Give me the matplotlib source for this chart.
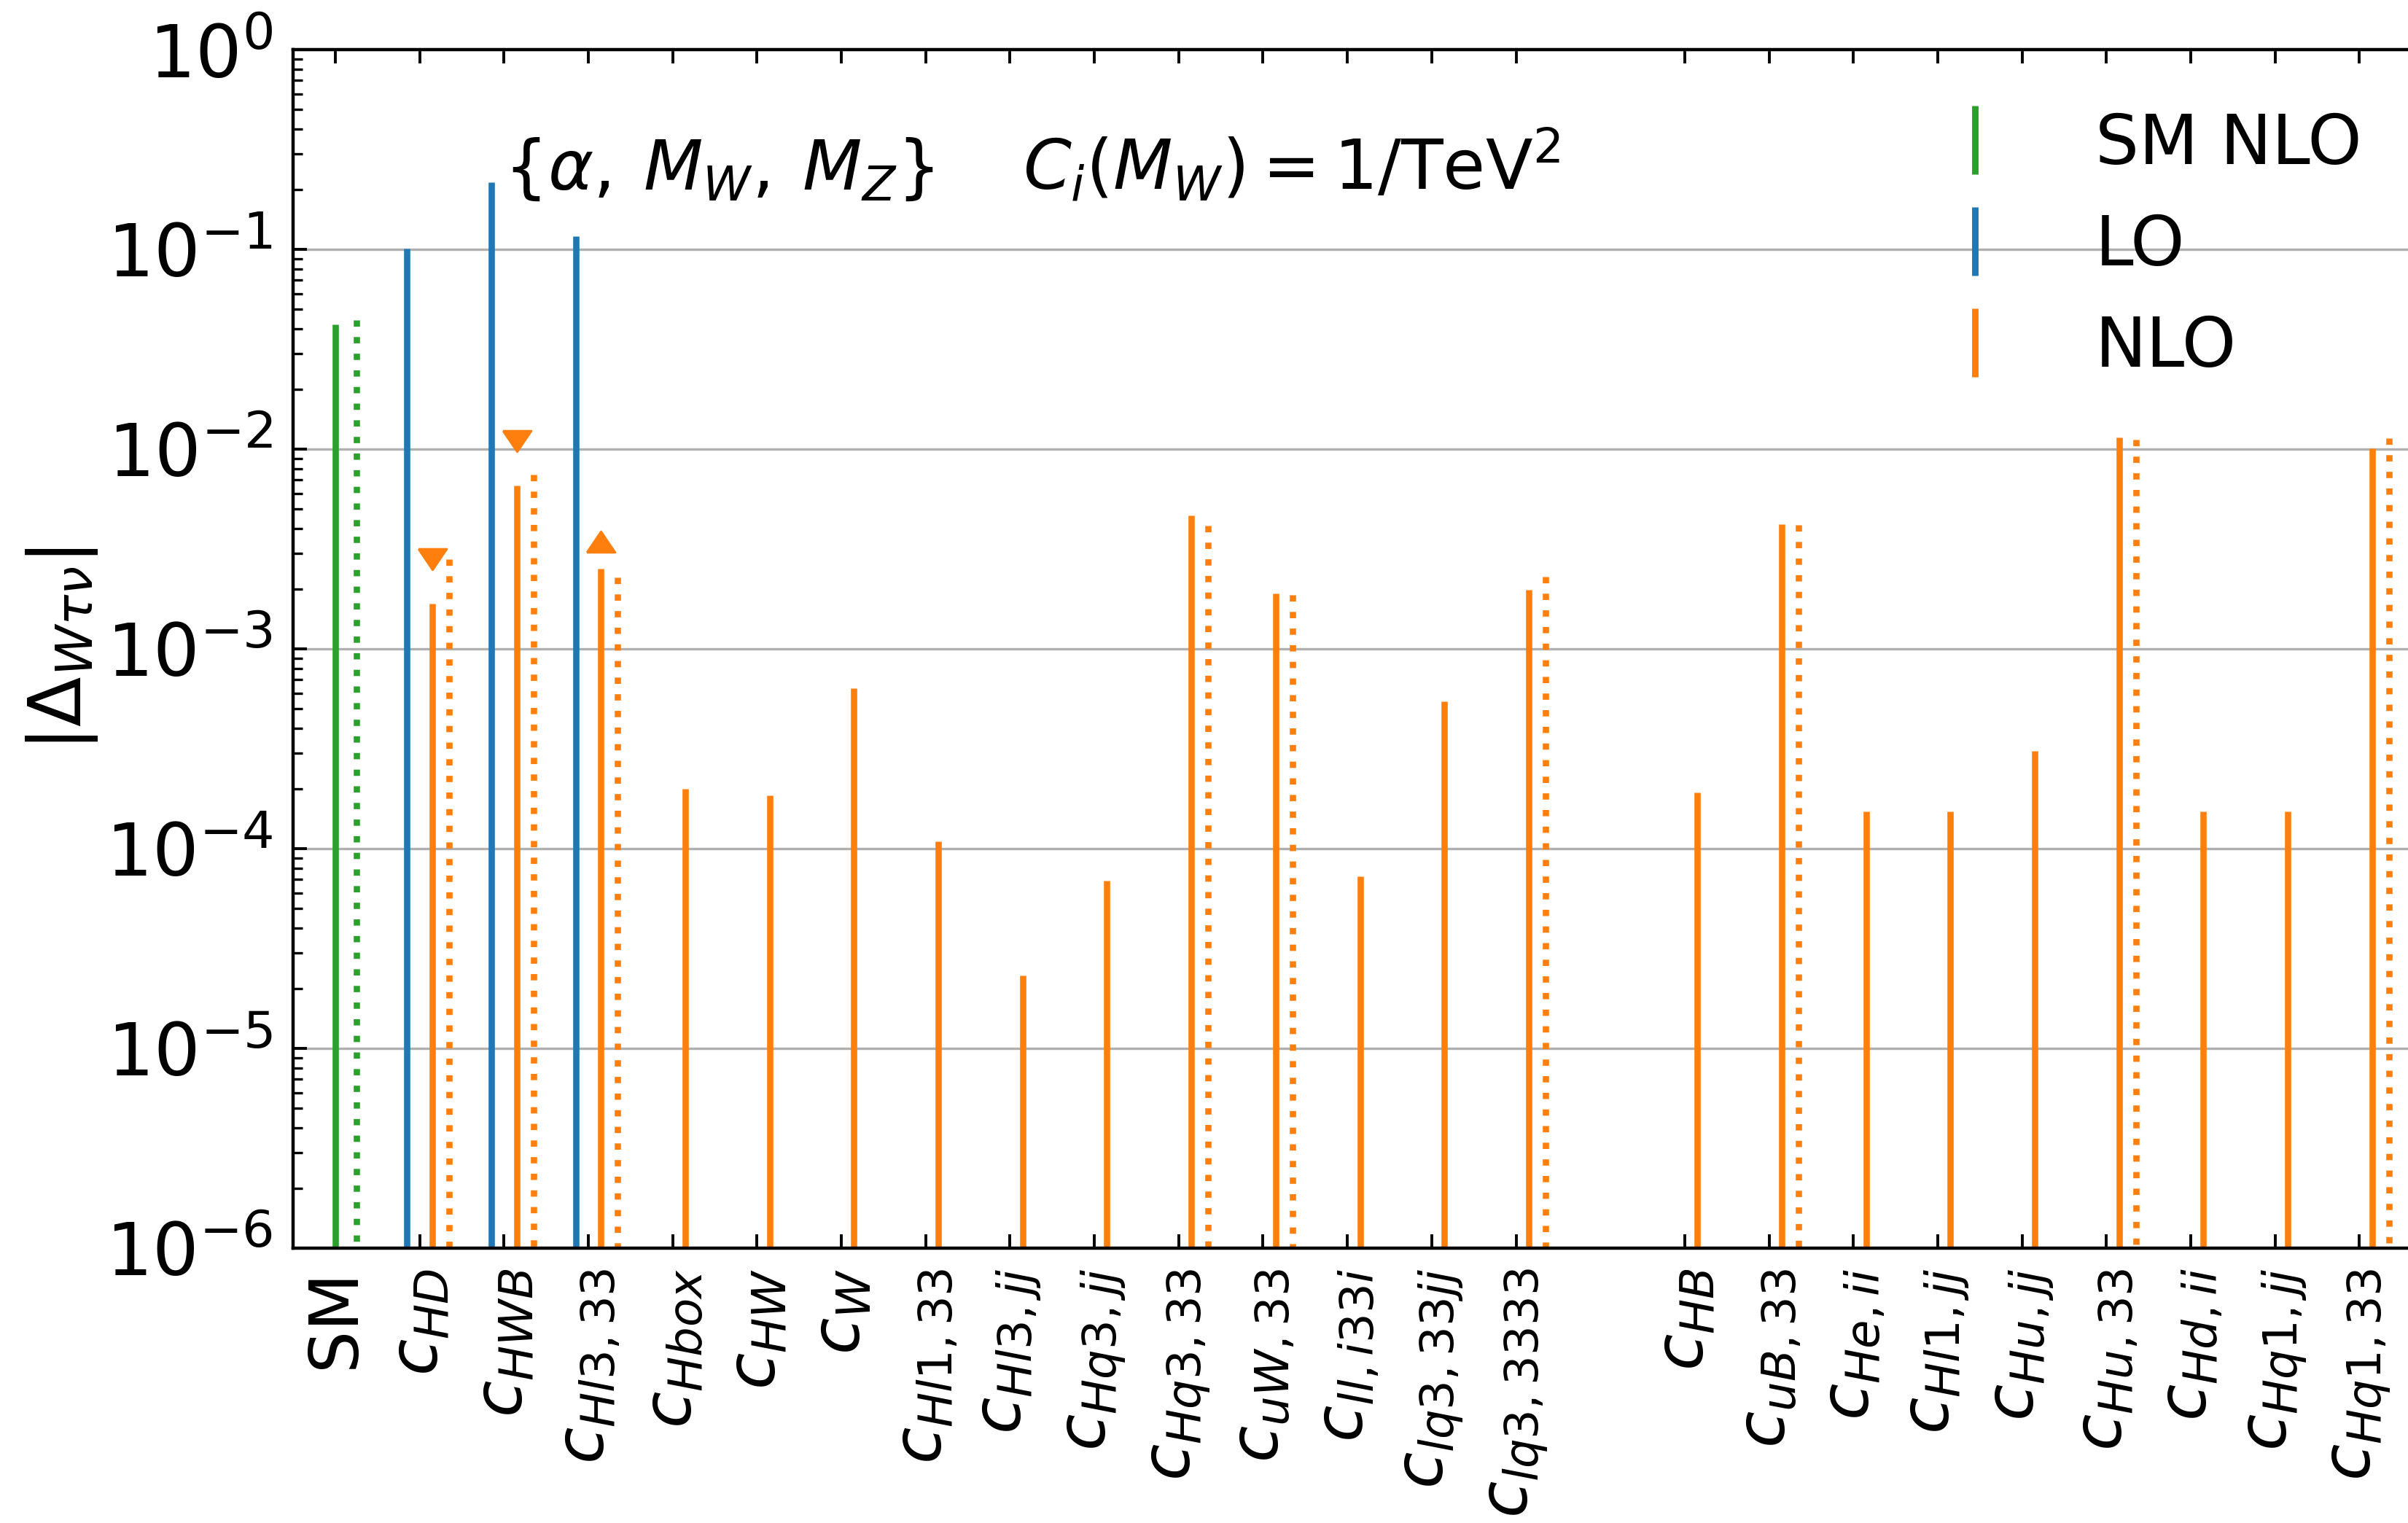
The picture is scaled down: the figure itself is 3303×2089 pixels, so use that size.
import matplotlib.pyplot as plt
from matplotlib.lines import Line2D
import numpy as np

# operator labels along x (slot 15 left empty as a separator)
labels = ['SM', r'$c_{HD}$', r'$c_{HWB}$', r'$c_{Hl3,33}$', r'$c_{Hbox}$', r'$c_{HW}$',
          r'$c_{W}$', r'$c_{Hl1,33}$', r'$c_{Hl3,jj}$', r'$c_{Hq3,jj}$', r'$c_{Hq3,33}$',
          r'$c_{uW,33}$', r'$c_{ll,i33i}$', r'$c_{lq3,33jj}$', r'$c_{lq3,3333}$',
          r'$c_{HB}$', r'$c_{uB,33}$', r'$c_{He,ii}$', r'$c_{Hl1,jj}$', r'$c_{Hu,jj}$',
          r'$c_{Hu,33}$', r'$c_{Hd,ii}$', r'$c_{Hq1,jj}$', r'$c_{Hq1,33}$']
xpos = list(range(15)) + list(range(16, 25))

# SM at NLO (two schemes)
sm_nlo = 4.20e-2
sm_nlo_alt = 4.42e-2

# LO contributions (c_HD, c_HWB, c_Hl3,33)
lo_idx = [1, 2, 3]
lo_vals = [1.01e-1, 2.17e-1, 1.16e-1]

# NLO contributions, one per operator (labels[1:])
nlo_vals = [1.69e-3, 6.57e-3, 2.53e-3, 2.00e-4, 1.85e-4, 6.35e-4, 1.09e-4, 2.31e-5,
            6.93e-5, 4.64e-3, 1.89e-3, 7.24e-5, 5.44e-4, 1.98e-3,
            1.91e-4, 4.20e-3, 1.53e-4, 1.53e-4, 3.08e-4, 1.14e-2, 1.53e-4, 1.53e-4, 1.01e-2]

# NLO in the second scheme (dotted)
alt_idx = [1, 2, 3, 10, 11, 14, 16, 20, 23]
alt_vals = [2.81e-3, 7.48e-3, 2.28e-3, 4.13e-3, 1.87e-3, 2.30e-3, 4.17e-3, 1.12e-2, 1.13e-2]

# sign-flip markers
tri_idx = [1, 2, 3]
tri_vals = [2.81e-3, 1.10e-2, 3.43e-3]
tri_down = [True, True, False]

xpos = np.array(xpos)
ymin = 1e-6
lw = 3.1

# flattened triangles
tri_dn = [(-1, 0.74), (1, 0.74), (0, -0.74), (-1, 0.74)]
tri_up = [(-1, -0.74), (1, -0.74), (0, 0.74), (-1, -0.74)]

fig = plt.figure(figsize=(3303/200, 2089/200))
ax = fig.add_axes([0.1217, 0.18047, 0.9107, 0.78698])

ax.vlines(xpos[0], ymin, sm_nlo, color='tab:green', lw=lw)
ax.vlines(xpos[lo_idx] - 0.15, ymin, lo_vals, color='tab:blue', lw=lw)
ax.vlines(xpos[1:] + 0.15, ymin, nlo_vals, color='tab:orange', lw=lw)
# dotted ones drawn top-down so the dot pattern starts at the value
ax.vlines(xpos[0] + 0.25, sm_nlo_alt, ymin, color='tab:green', lw=lw, linestyles=':')
ax.vlines(xpos[alt_idx] + 0.35, alt_vals, ymin, color='tab:orange', lw=lw, linestyles=':')
for i, v, d in zip(tri_idx, tri_vals, tri_down):
    ax.plot(xpos[i] + 0.15, v, marker=tri_dn if d else tri_up, color='tab:orange',
            ms=14, mew=1, ls='none')

ax.set_yscale('log')
ax.set_ylim(ymin, 1)
ax.set_xlim(-0.5, 25.5)
ax.grid(axis='y', which='major', color='#b0b0b0', lw=1.2)

ax.set_xticks(xpos)
ax.set_xticklabels(labels, rotation=90, fontsize=33)
ax.tick_params(which='both', direction='in', top=True, right=True)
ax.tick_params(which='major', length=7, width=1.4)
ax.tick_params(which='minor', length=4.5, width=1.2)
ax.tick_params(axis='x', pad=10)
ax.tick_params(axis='y', labelsize=36, pad=10)
for s in ax.spines.values():
    s.set_linewidth(1.6)

ax.set_ylabel(r'$|\Delta_{W\tau\nu}|$', fontsize=36)
ax.yaxis.set_label_coords(-0.088, 0.5)

ax.text(2.0, 0.2, r'$\{\alpha,\:M_W,\:M_Z\}$', fontsize=34)
ax.text(8.15, 0.2, r'$C_i(M_W) = 1/\mathrm{TeV}^2$', fontsize=34)

handles = [Line2D([], [], color=c, marker='|', ls='None', ms=34, mew=3.2)
           for c in ['tab:green', 'tab:blue', 'tab:orange']]
ax.legend(handles, ['SM NLO', 'LO', 'NLO'], loc='upper left',
          bbox_to_anchor=(2615/3303, 1 - 153/2089), bbox_transform=fig.transFigure,
          frameon=False, fontsize=34, handlelength=2, handletextpad=0.74,
          labelspacing=0.5, borderpad=0, borderaxespad=0)

fig.savefig('out.png', dpi=200)
